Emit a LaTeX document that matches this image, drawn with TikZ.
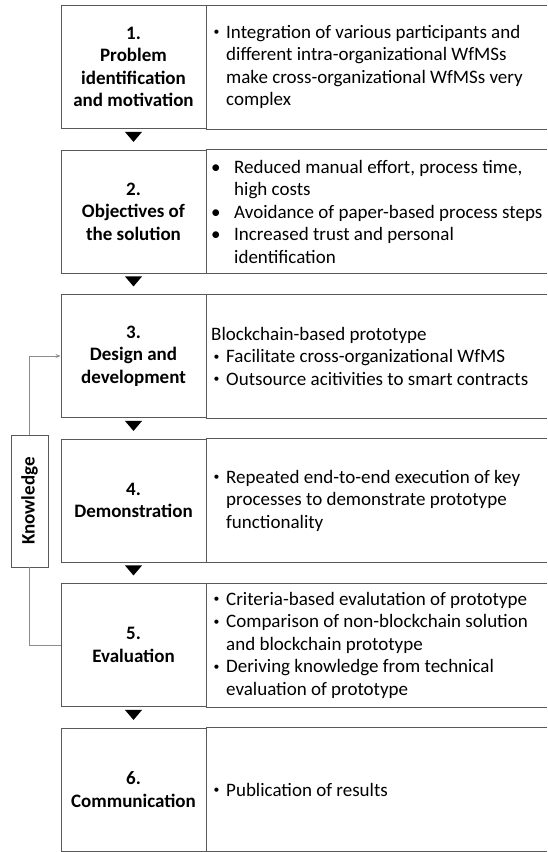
\documentclass[tikz,border=0pt]{standalone}
\usepackage{fontspec}
\setmainfont{Carlito}
\usetikzlibrary{arrows.meta,calc}
\definecolor{boxline}{HTML}{595959}
\definecolor{fbline}{HTML}{8C8C8C}
\newcommand{\mybul}{\makebox[15pt][l]{\hspace{2.5pt}\raisebox{0.13em}{\scalebox{0.62}{•}}}}
\newcommand{\myind}{\hspace*{15pt}}
\newcommand{\mybulw}{\makebox[23pt][l]{•}}
\newcommand{\myindw}{\hspace*{23pt}}
\begin{document}
\begin{tikzpicture}[x=1pt,y=-1pt,
  lcell/.style={draw=boxline, line width=0.9pt, minimum width=145pt, minimum height=123pt,
    align=center, font=\fontsize{19}{22.5}\selectfont\bfseries, inner sep=0pt},
  rtext/.style={anchor=west, align=left, inner sep=0pt, font=\fontsize{19}{22.5}\selectfont},
  edge/.style={draw=boxline, line width=0.9pt},
  fb/.style={draw=fbline, line width=0.8pt},
  knbox/.style={draw=boxline, line width=0.9pt, rotate=90, minimum width=132pt, minimum height=37pt,
    inner sep=0pt, font=\fontsize{19}{22.5}\selectfont\bfseries}]
\useasboundingbox (0,0) rectangle (547,852);
\coordinate (re) at (547,0);

\node[lcell] (l1) at (133.5,67) {1.\\Problem\\identification\\and motivation};
\node[lcell] (l2) at (133.5,211.5) {2.\\Objectives of\\the solution};
\node[lcell] (l3) at (133.5,356) {3.\\Design and\\development};
\node[lcell] (l4) at (133.5,500.5) {4.\\Demonstration};
\node[lcell] (l5) at (133.5,645) {5.\\Evaluation};
\node[lcell] (l6) at (133.5,789.5) {6.\\Communication};

\node[rtext] (r1) at (211,67) {\mybul Integration of various participants and\\
\myind different intra-organizational WfMSs\\
\myind make cross-organizational WfMSs very\\
\myind complex};
\node[rtext] (r2) at (211,211.5) {\mybulw Reduced manual effort, process time,\\
\myindw high costs\\
\mybulw Avoidance of paper-based process steps\\
\mybulw Increased trust and personal\\
\myindw identification};
\node[rtext] (r3) at (211,356) {Blockchain-based prototype\\
\mybul Facilitate cross-organizational WfMS\\
\mybul Outsource acitivities to smart contracts};
\node[rtext] (r4) at (211,500.5) {\mybul Repeated end-to-end execution of key\\
\myind processes to demonstrate prototype\\
\myind functionality};
\node[rtext] (r5) at (211,645) {\mybul Criteria-based evalutation of prototype\\
\mybul Comparison of non-blockchain solution\\
\myind and blockchain prototype\\
\mybul Deriving knowledge from technical\\
\myind evaluation of prototype};
\node[rtext] (r6) at (211,789.5) {\mybul Publication of results};

\foreach \n in {l1,l2,l3,l4,l5,l6}{
  \draw[edge] (\n.north east) -- (\n.north east -| re);
  \draw[edge] (\n.south east) -- (\n.south east -| re);
}

\foreach \n in {l1,l2,l3,l4,l5}{
  \fill ($(\n.south)+(-8.5,3)$) -- ($(\n.south)+(8.5,3)$) -- ($(\n.south)+(0,13)$) -- cycle;
}

\node[knbox] (kn) at (29.5,501) {Knowledge};
\draw[fb] (l5.west) -| (kn.west);
\draw[fb,-{Stealth[length=5pt,width=4pt]}] (kn.east) |- (l3.west);
\end{tikzpicture}
\end{document}
